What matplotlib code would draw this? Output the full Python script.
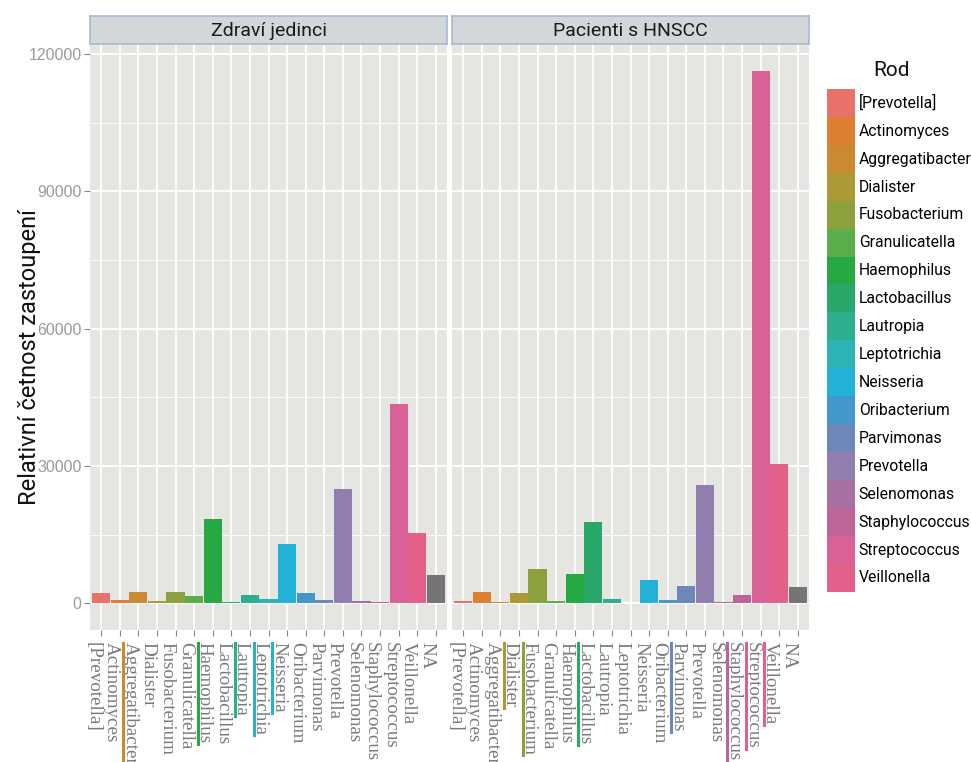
import numpy as np
import matplotlib.pyplot as plt
from matplotlib.patches import Patch
from matplotlib.lines import Line2D

# data
rody = ['[Prevotella]', 'Actinomyces', 'Aggregatibacter', 'Dialister', 'Fusobacterium',
        'Granulicatella', 'Haemophilus', 'Lactobacillus', 'Lautropia', 'Leptotrichia',
        'Neisseria', 'Oribacterium', 'Parvimonas', 'Prevotella', 'Selenomonas',
        'Staphylococcus', 'Streptococcus', 'Veillonella', 'NA']
zdravi = [2250, 700, 2400, 450, 2500, 1650, 18500, 350, 1800, 1000,
          12900, 2200, 750, 25100, 500, 300, 43500, 15300, 6200]
pacienti = [500, 2600, 250, 2300, 7500, 450, 6400, 17700, 950, 150,
            5150, 750, 3900, 25900, 300, 1900, 116400, 30400, 3600]
panely = ['Zdraví jedinci', 'Pacienti s HNSCC']
barvy = ['#E8716A', '#DE7E30', '#C98A32', '#AD9A37', '#8DA03E', '#5CAE4A',
         '#26A845', '#2AA86A', '#2DAE8E', '#2DB3B3', '#22B2D8', '#4397CA',
         '#6B88B9', '#927EAE', '#A671A1', '#BD6599', '#DA6198', '#E2608A', '#757575']
podtrzene = [['Aggregatibacter', 'Haemophilus', 'Lautropia', 'Leptotrichia', 'Neisseria'],
             ['Dialister', 'Fusobacterium', 'Lactobacillus', 'Parvimonas',
              'Staphylococcus', 'Streptococcus', 'Veillonella']]
yticks = [0, 30000, 60000, 90000, 120000]
yticklabels = ['0', '30000', '60000', '90000', '120000']

W, H = 971, 762
fig = plt.figure(figsize=(W / 100, H / 100), dpi=100)

x = np.arange(len(rody))
lefts = [90, 452]
pw = 357
axes = []
for i, (nazev, vals) in enumerate(zip(panely, [zdravi, pacienti])):
    ax = fig.add_axes([lefts[i] / W, 1 - 630 / H, pw / W, 586 / H])
    ax.set_facecolor('#E5E5E1')
    ax.bar(x, vals, width=0.98, color=barvy, zorder=2)
    ax.set_xlim(-0.6, len(rody) - 0.4)
    ax.set_ylim(-5800, 122200)
    ax.set_xticks(x)
    ax.set_xticklabels(rody, rotation=270, ha='right', va='top',
                       family='Liberation Serif', fontsize=13.7, color='#7a7a7a')
    ax.set_yticks(yticks)
    ax.set_yticks([15000, 45000, 75000, 105000], minor=True)
    ax.grid(which='major', color='white', lw=1.3, zorder=0)
    ax.grid(which='minor', axis='y', color='white', lw=0.6, zorder=0)
    ax.set_axisbelow(True)
    for s in ax.spines.values():
        s.set_visible(False)
    ax.tick_params(axis='x', length=4, color='#888888', pad=5)
    ax.tick_params(which='minor', length=0)
    if i == 0:
        ax.set_yticklabels(yticklabels, family='Liberation Sans', fontsize=11.5, color='#9a9a9a')
        ax.tick_params(axis='y', length=4, color='#888888', pad=2)
    else:
        ax.set_yticklabels([])
        ax.tick_params(axis='y', length=0)
    # strip
    sax = fig.add_axes([lefts[i] / W, 1 - 44 / H, pw / W, 28 / H])
    sax.set_facecolor('#D4D7DA')
    sax.set_xticks([])
    sax.set_yticks([])
    for s in sax.spines.values():
        s.set_color('#A8B8D8')
        s.set_linewidth(1.2)
    sax.text(0.5, 0.45, nazev, ha='center', va='center', family='Roboto',
             fontsize=14, color='#1a1a1a', transform=sax.transAxes)
    axes.append(ax)

fig.text(30 / W, 1 - 357 / H, 'Relativní četnost zastoupení', rotation=90,
         ha='center', va='center', family='Roboto', fontsize=17, color='#111111')

# legend
handles = [Patch(facecolor=c, edgecolor='none') for c in barvy[:-1]]
fig.legend(handles, rody[:-1], loc='upper left', bbox_to_anchor=(827 / W, 1 - 89 / H),
           frameon=False, borderpad=0, borderaxespad=0, labelspacing=0,
           handlelength=1.78, handleheight=2.36, handletextpad=0.25,
           prop={'family': 'Roboto', 'size': 11.3})
fig.text(891 / W, 1 - 70 / H, 'Rod', ha='center', va='center', family='Roboto',
         fontsize=15, color='#111111')

# colored underlines under some tick labels
fig.canvas.draw()
r = fig.canvas.get_renderer()
for ax, jmena in zip(axes, podtrzene):
    for lab in ax.get_xticklabels():
        if lab.get_text() in jmena:
            bb = lab.get_window_extent(r)
            c = barvy[rody.index(lab.get_text())]
            fig.lines.append(Line2D([(bb.x0 + 2) / W] * 2, [bb.y1 / H, bb.y0 / H],
                                    transform=fig.transFigure, color=c, lw=2.2))

fig.savefig('out.png', dpi=100)
